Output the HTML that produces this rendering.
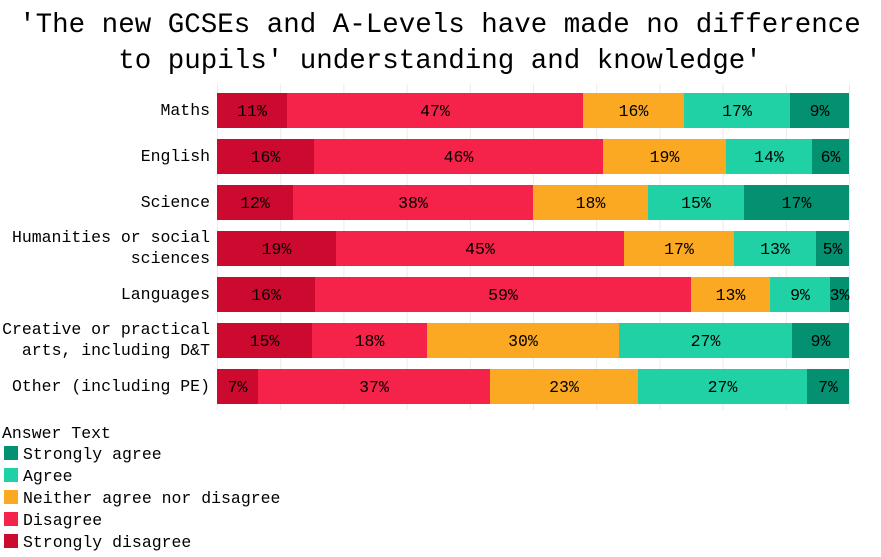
<!DOCTYPE html>
<html><head><meta charset="utf-8"><style>
body{margin:0;background:#fff;}
svg text{font-family:"Liberation Mono","DejaVu Sans Mono",monospace;}
</style></head><body>
<svg width="881" height="552" xmlns="http://www.w3.org/2000/svg">
<text x="440" y="32" font-size="27.5" text-anchor="middle" fill="#000">'The new GCSEs and A-Levels have made no difference</text>
<text x="440" y="68" font-size="27.5" text-anchor="middle" fill="#000">to pupils' understanding and knowledge'</text>
<g stroke="#ebebeb" stroke-width="1">
<line x1="217.5" y1="84" x2="217.5" y2="410"/><line x1="280.7" y1="84" x2="280.7" y2="410"/><line x1="343.9" y1="84" x2="343.9" y2="410"/><line x1="407.1" y1="84" x2="407.1" y2="410"/><line x1="470.3" y1="84" x2="470.3" y2="410"/><line x1="533.5" y1="84" x2="533.5" y2="410"/><line x1="596.7" y1="84" x2="596.7" y2="410"/><line x1="659.9" y1="84" x2="659.9" y2="410"/><line x1="723.1" y1="84" x2="723.1" y2="410"/><line x1="786.3" y1="84" x2="786.3" y2="410"/><line x1="849.5" y1="84" x2="849.5" y2="410"/>
</g>
<g>
<rect x="217" y="93" width="70" height="35" fill="#cc0a2f"/><rect x="287" y="93" width="296" height="35" fill="#f5234a"/><rect x="583" y="93" width="101" height="35" fill="#fba823"/><rect x="684" y="93" width="106" height="35" fill="#1fd1a5"/><rect x="790" y="93" width="59" height="35" fill="#039172"/>
<rect x="217" y="139" width="97" height="35" fill="#cc0a2f"/><rect x="314" y="139" width="289" height="35" fill="#f5234a"/><rect x="603" y="139" width="123" height="35" fill="#fba823"/><rect x="726" y="139" width="86" height="35" fill="#1fd1a5"/><rect x="812" y="139" width="37" height="35" fill="#039172"/>
<rect x="217" y="185" width="76" height="35" fill="#cc0a2f"/><rect x="293" y="185" width="240" height="35" fill="#f5234a"/><rect x="533" y="185" width="115" height="35" fill="#fba823"/><rect x="648" y="185" width="96" height="35" fill="#1fd1a5"/><rect x="744" y="185" width="105" height="35" fill="#039172"/>
<rect x="217" y="231" width="119" height="35" fill="#cc0a2f"/><rect x="336" y="231" width="288" height="35" fill="#f5234a"/><rect x="624" y="231" width="110" height="35" fill="#fba823"/><rect x="734" y="231" width="82" height="35" fill="#1fd1a5"/><rect x="816" y="231" width="33" height="35" fill="#039172"/>
<rect x="217" y="277" width="98" height="35" fill="#cc0a2f"/><rect x="315" y="277" width="376" height="35" fill="#f5234a"/><rect x="691" y="277" width="79" height="35" fill="#fba823"/><rect x="770" y="277" width="60" height="35" fill="#1fd1a5"/><rect x="830" y="277" width="19" height="35" fill="#039172"/>
<rect x="217" y="323" width="95" height="35" fill="#cc0a2f"/><rect x="312" y="323" width="115" height="35" fill="#f5234a"/><rect x="427" y="323" width="192" height="35" fill="#fba823"/><rect x="619" y="323" width="173" height="35" fill="#1fd1a5"/><rect x="792" y="323" width="57" height="35" fill="#039172"/>
<rect x="217" y="369" width="41" height="35" fill="#cc0a2f"/><rect x="258" y="369" width="232" height="35" fill="#f5234a"/><rect x="490" y="369" width="148" height="35" fill="#fba823"/><rect x="638" y="369" width="169" height="35" fill="#1fd1a5"/><rect x="807" y="369" width="42" height="35" fill="#039172"/>
</g>
<g font-size="16.5" text-anchor="middle" fill="#000">
<text x="252" y="116">11%</text><text x="435" y="116">47%</text><text x="633.5" y="116">16%</text><text x="737" y="116">17%</text><text x="819.5" y="116">9%</text>
<text x="265.5" y="162">16%</text><text x="458.5" y="162">46%</text><text x="664.5" y="162">19%</text><text x="769" y="162">14%</text><text x="830.5" y="162">6%</text>
<text x="255" y="208">12%</text><text x="413" y="208">38%</text><text x="590.5" y="208">18%</text><text x="696" y="208">15%</text><text x="796.5" y="208">17%</text>
<text x="276.5" y="254">19%</text><text x="480" y="254">45%</text><text x="679" y="254">17%</text><text x="775" y="254">13%</text><text x="832.5" y="254">5%</text>
<text x="266" y="300">16%</text><text x="503" y="300">59%</text><text x="730.5" y="300">13%</text><text x="800" y="300">9%</text><text x="839.5" y="300">3%</text>
<text x="264.5" y="346">15%</text><text x="369.5" y="346">18%</text><text x="523" y="346">30%</text><text x="705.5" y="346">27%</text><text x="820.5" y="346">9%</text>
<text x="237.5" y="392">7%</text><text x="374" y="392">37%</text><text x="564" y="392">23%</text><text x="722.5" y="392">27%</text><text x="828" y="392">7%</text>
</g>
<g font-size="16.5" text-anchor="end" fill="#000">
<text x="210" y="115">Maths</text>
<text x="210" y="161">English</text>
<text x="210" y="207">Science</text>
<text x="210" y="242">Humanities or social</text>
<text x="210" y="263">sciences</text>
<text x="210" y="299">Languages</text>
<text x="210" y="334">Creative or practical</text>
<text x="210" y="355">arts, including D&amp;T</text>
<text x="210" y="391">Other (including PE)</text>
</g>
<g font-size="16.5" fill="#000">
<text x="2" y="438">Answer Text</text>
<rect x="4" y="446" width="14" height="14" fill="#039172"/><text x="23" y="459">Strongly agree</text>
<rect x="4" y="468" width="14" height="14" fill="#1fd1a5"/><text x="23" y="481">Agree</text>
<rect x="4" y="490" width="14" height="14" fill="#fba823"/><text x="23" y="503">Neither agree nor disagree</text>
<rect x="4" y="512" width="14" height="14" fill="#f5234a"/><text x="23" y="525">Disagree</text>
<rect x="4" y="534" width="14" height="14" fill="#cc0a2f"/><text x="23" y="547">Strongly disagree</text>
</g>
</svg>
</body></html>
